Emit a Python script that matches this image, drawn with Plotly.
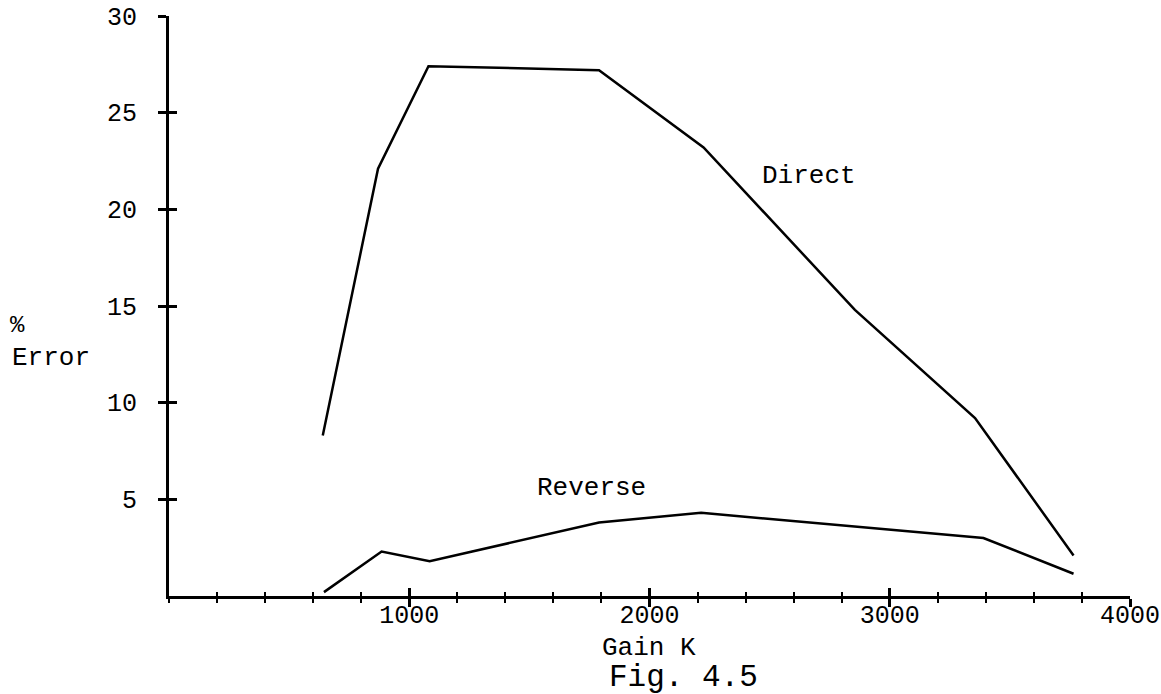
import plotly.graph_objects as go

# Data (Fig. 4.5)
direct_gain = [640, 870, 1080, 1790, 2225, 2855, 3355, 3765]
direct_err = [8.3, 22.1, 27.4, 27.2, 23.2, 14.8, 9.2, 2.1]

reverse_gain = [645, 885, 1085, 1790, 2215, 2860, 3390, 3765]
reverse_err = [0.2, 2.3, 1.8, 3.8, 4.3, 3.6, 3.0, 1.15]

x_ticks = [1000, 2000, 3000, 4000]
y_ticks = [5, 10, 15, 20, 25, 30]

FONT = "Liberation Mono"
fs_tick = 25
fs = 26

fig = go.Figure()
fig.add_trace(go.Scatter(x=direct_gain, y=direct_err, mode="lines",
                         line=dict(color="black", width=2.5), name="Direct",
                         showlegend=False))
fig.add_trace(go.Scatter(x=reverse_gain, y=reverse_err, mode="lines",
                         line=dict(color="black", width=2.5), name="Reverse",
                         showlegend=False))
# empty trace to materialise the overlay axes (inside half of crossing ticks)
fig.add_trace(go.Scatter(x=[], y=[], xaxis="x2", yaxis="y2", showlegend=False))

common_x = dict(range=[0, 4000], tickvals=x_ticks, showgrid=False, zeroline=False, automargin=False)
common_y = dict(range=[0, 30], tickvals=y_ticks, showgrid=False, zeroline=False, automargin=False)

fig.update_layout(
    width=1161, height=694,
    margin=dict(l=169, r=31, t=16, b=98),
    plot_bgcolor="white", paper_bgcolor="white",
    font=dict(family=FONT, size=fs, color="black"),
    xaxis=dict(**common_x, showline=True, linecolor="black", linewidth=3,
               ticks="outside", ticklen=8, tickwidth=2.5, tickcolor="black",
               tickfont=dict(family=FONT, size=fs_tick), ticklabelstandoff=-14,
               minor=dict(dtick=200, ticks="outside", ticklen=4, tickwidth=2, tickcolor="black")),
    yaxis=dict(**common_y, showline=True, linecolor="black", linewidth=3,
               ticks="outside", ticklen=8, tickwidth=2.5, tickcolor="black",
               tickfont=dict(family=FONT, size=fs_tick), ticklabelstandoff=16),
    xaxis2=dict(**common_x, overlaying="x", anchor="y2", showline=False,
                ticks="inside", ticklen=8, tickwidth=2.5, tickcolor="black",
                showticklabels=False,
                minor=dict(dtick=200, ticks="inside", ticklen=4, tickwidth=2, tickcolor="black")),
    yaxis2=dict(**common_y, overlaying="y", anchor="x2", showline=False,
                ticks="inside", ticklen=8, tickwidth=2.5, tickcolor="black",
                showticklabels=False),
)

# curve labels in data coordinates
for text, x, y in [("Direct", 2662, 21.73), ("Reverse", 1760, 5.59)]:
    fig.add_annotation(text=text, x=x, y=y, xref="x", yref="y", showarrow=False,
                       xanchor="center", yanchor="middle",
                       font=dict(family=FONT, size=fs, color="black"))

# axis titles / caption in paper coordinates
for text, x, y, size in [("%", -0.158, 0.467, 24),
                         ("Error", -0.1228, 0.410, fs),
                         ("Gain K", 0.4995, -0.0897, fs),
                         ("Fig. 4.5", 0.535, -0.141, 31)]:
    fig.add_annotation(text=text, x=x, y=y, xref="paper", yref="paper", showarrow=False,
                       xanchor="center", yanchor="middle",
                       font=dict(family=FONT, size=size, color="black"))

fig.write_html("out.html")
